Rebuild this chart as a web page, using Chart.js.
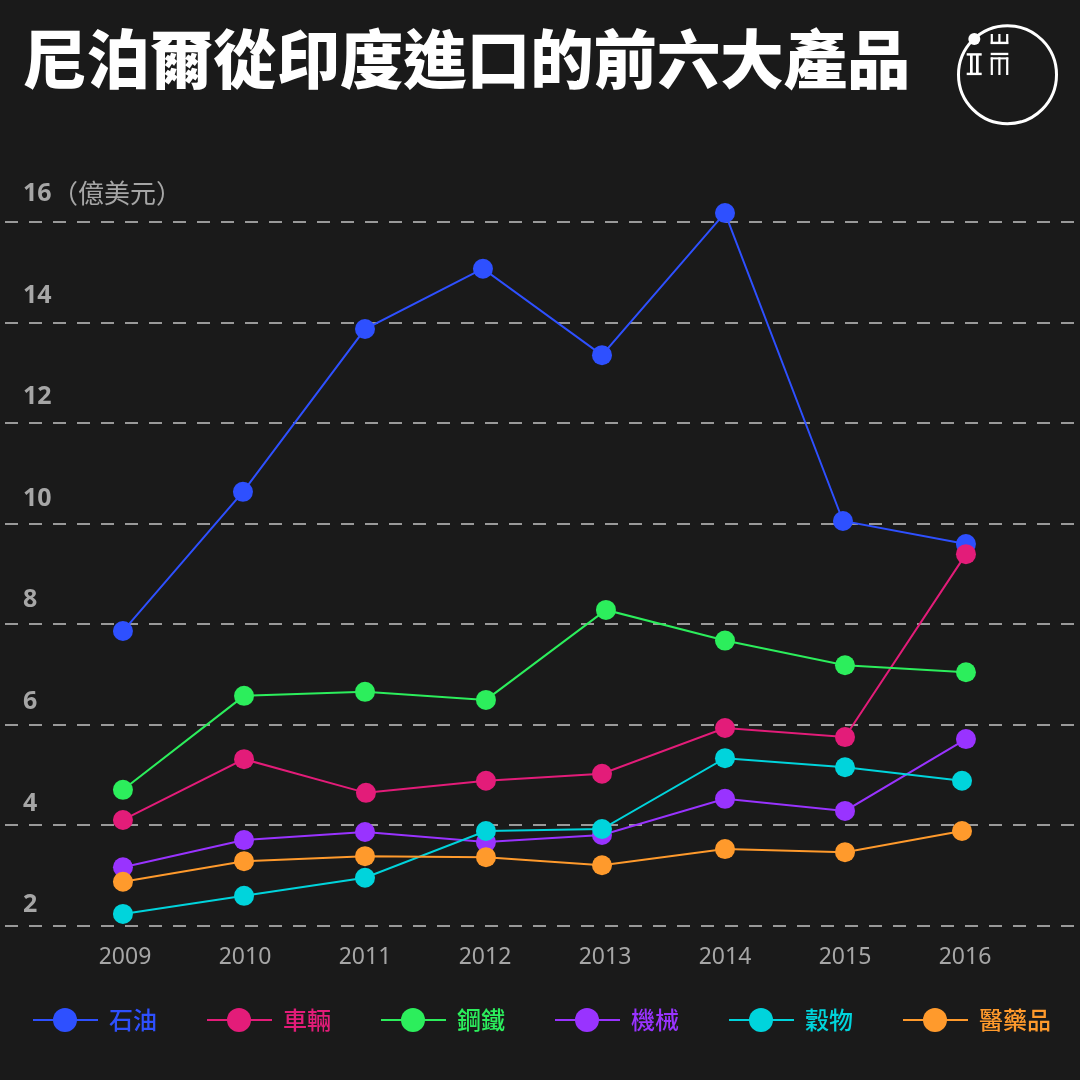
<!DOCTYPE html>
<html lang="zh-Hant"><head><meta charset="utf-8">
<script src="https://cdn.jsdelivr.net/npm/chart.js@4"></script>
<style>
html,body{margin:0;padding:0;background:#1a1a1a}
#wrap{position:relative;width:1080px;height:1080px;overflow:hidden;background:#1a1a1a;font-family:"Noto Sans CJK TC","Noto Sans",sans-serif}
#c{position:absolute;left:0;top:0}
#title{position:absolute;left:23px;top:7px;font-size:63.4px;font-weight:900;color:#fff;line-height:96px;white-space:nowrap}
#unit{position:absolute;left:52px;top:173px;font-size:26px;color:#a6a6a6;line-height:38px;white-space:nowrap}
#logo{position:absolute;left:0;top:0}
#legend{position:absolute;left:33px;top:1000px;display:flex}
.it{width:174px;height:40px;position:relative;font-size:24px;font-weight:500;line-height:40px;white-space:nowrap}
.it i{position:absolute;left:0;top:19px;width:65px;height:2px}
.it b{position:absolute;left:20px;top:8px;width:24px;height:24px;border-radius:50%}
.it span{position:absolute;left:76px;top:-1px}
</style></head><body>
<div id="wrap">
<canvas id="c" width="1080" height="1080"></canvas>
<div id="title">尼泊爾從印度進口的前六大產品</div>
<div id="unit">（億美元）</div>
<svg id="logo" width="1080" height="140" fill="#fff">
<circle cx="1007.5" cy="74.7" r="49" fill="none" stroke="#fff" stroke-width="3"/>
<circle cx="974.3" cy="39" r="6"/>
<rect x="990.7" y="41.7" width="17.6" height="2.4"/><rect x="990.7" y="34" width="2.2" height="10"/><rect x="998.3" y="34" width="2.2" height="10"/><rect x="1006.1" y="34" width="2.2" height="10"/>
<rect x="966.7" y="53.2" width="15" height="2.4"/><rect x="966.7" y="72.7" width="15" height="2.4"/><rect x="970" y="55" width="2.7" height="18"/><rect x="976" y="55" width="2.7" height="18"/>
<rect x="990.7" y="52.8" width="17.6" height="2.3"/><rect x="990.7" y="57.4" width="17.6" height="2"/><rect x="990.7" y="57.4" width="2.2" height="17.6"/><rect x="998.3" y="57.4" width="2.2" height="17.6"/><rect x="1006.1" y="57.4" width="2.2" height="17.6"/>
</svg>
<div id="legend"></div>
</div>
<script>
const years = [2009,2010,2011,2012,2013,2014,2015,2016];
const yTicks = [2,4,6,8,10,12,14,16];
const names = ["石油","車輛","鋼鐵","機械","穀物","醫藥品"];
const colors = ["#2e50ff","#e31c79","#2cee5c","#9933ff","#00d4dc","#ff9a2c"];
const oilValues = [7.86,10.63,13.87,15.07,13.35,16.18,10.05,9.59];
const vehicleValues = [4.10,5.31,4.64,4.88,5.02,5.93,5.75,9.39];
const steelValues = [4.70,6.57,6.65,6.49,8.28,7.67,7.18,7.04];
const machineryValues = [3.16,3.70,3.86,3.66,3.80,4.52,4.28,5.71];
const grainValues = [2.23,2.59,2.95,3.88,3.92,5.33,5.15,4.88];
const medicineValues = [2.87,3.28,3.38,3.36,3.20,3.52,3.46,3.88];
const oilYears = [2008.983,2009.983,2011,2011.983,2012.975,2014,2014.983,2016.008];
const vehicleYears = [2008.983,2009.992,2011.008,2012.008,2012.975,2014,2015,2016.008];
const steelYears = [2008.983,2009.992,2011,2012.008,2013.008,2014,2015,2016.008];
const machineryYears = [2008.983,2009.992,2011,2012.008,2012.975,2014,2015,2016.008];
const grainYears = [2008.983,2009.992,2011,2012.008,2012.975,2014,2015,2015.975];
const medicineYears = [2008.983,2009.992,2011,2012.008,2012.975,2014,2015,2015.975];
const values = [oilValues,vehicleValues,steelValues,machineryValues,grainValues,medicineValues];
const xs = [oilYears,vehicleYears,steelYears,machineryYears,grainYears,medicineYears];
const font = '"Noto Sans","Noto Sans CJK TC",sans-serif';
const noSidePad = s=>{s.paddingLeft=0;s.paddingRight=0;s.paddingTop=0;s.paddingBottom=0};
new Chart(document.getElementById('c'),{
  type:'line',
  data:{datasets:names.map((n,i)=>({
    label:n,
    data:values[i].map((v,j)=>({x:xs[i][j],y:v})),
    borderColor:colors[i],backgroundColor:colors[i],
    pointBackgroundColor:colors[i],pointBorderWidth:0,pointRadius:10,
    borderWidth:2,tension:0,clip:false,order:names.length-i,yAxisID:'y'
  }))},
  options:{
    responsive:false,animation:false,devicePixelRatio:1,
    layout:{autoPadding:false,padding:{left:5,right:5,top:222,bottom:94.5}},
    plugins:{legend:{display:false},tooltip:{enabled:false}},
    scales:{
      x:{type:'linear',min:2008,max:2016.9167,
        afterBuildTicks:s=>{s.ticks=years.map(v=>({value:v}))},
        afterFit:s=>{s.height=60;noSidePad(s)},
        grid:{display:false},border:{display:false},
        ticks:{autoSkip:false,maxRotation:0,color:'#a6a6a6',font:{family:font,size:23},padding:10,callback:v=>String(v)}},
      y:{min:2,max:16,
        afterBuildTicks:s=>{s.ticks=yTicks.map(v=>({value:v}))},
        afterFit:s=>{s.width=0;noSidePad(s)},
        grid:{color:'#999999',lineWidth:2,drawTicks:false,tickLength:0},
        border:{display:false,dash:[13,11]},
        ticks:{display:false}},
      yLabels:{position:'left',min:2,max:15.852,
        afterBuildTicks:s=>{s.ticks=yTicks.map(v=>({value:v}))},
        afterFit:s=>{s.width=0;noSidePad(s)},
        grid:{display:false},border:{display:false},
        ticks:{mirror:true,padding:18,labelOffset:-20.5,color:'#a6a6a6',font:{family:font,size:25,weight:'bold'},callback:v=>String(v)}}
    }
  }
});
document.getElementById('legend').innerHTML=names.map((n,i)=>
 `<div class="it" style="color:${colors[i]}"><i style="background:${colors[i]}"></i><b style="background:${colors[i]}"></b><span>${n}</span></div>`).join('');
</script>
</body></html>
